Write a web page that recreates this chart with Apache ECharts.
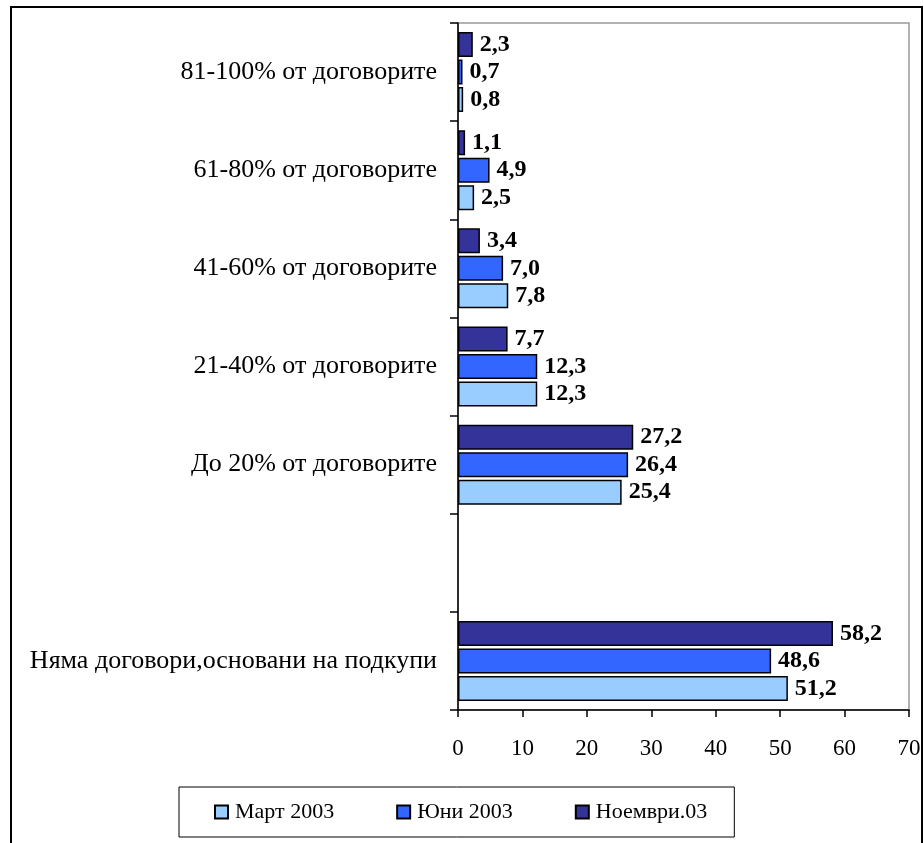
<!DOCTYPE html>
<html>
<head>
<meta charset="utf-8">
<script src="https://cdn.jsdelivr.net/npm/echarts@6/dist/echarts.min.js"></script>
<style>
html,body{margin:0;padding:0;background:#fff;}
#chart{width:924px;height:843px;}
</style>
</head>
<body>
<div id="chart"></div>
<script>
const categories = [
  "Няма договори,основани на подкупи",
  "",
  "До 20% от договорите",
  "21-40% от договорите",
  "41-60% от договорите",
  "61-80% от договорите",
  "81-100% от договорите"
];
const seriesNames = ["Март 2003", "Юни 2003", "Ноември.03"];
const mart2003 = [51.2, null, 25.4, 12.3, 7.8, 2.5, 0.8];
const yuni2003 = [48.6, null, 26.4, 12.3, 7.0, 4.9, 0.7];
const noemvri03 = [58.2, null, 27.2, 7.7, 3.4, 1.1, 2.3];
const xTicks = { min: 0, max: 70, interval: 10 };

const colors = ["#99CCFF", "#3366FF", "#333399"];
const font = "'Liberation Serif', 'Times New Roman', serif";

function mk(name, data, color) {
  return {
    name: name,
    type: "bar",
    data: data,
    barWidth: 25,
    barGap: "10%",
    itemStyle: { color: color, borderColor: "#000", borderWidth: 1.5 },
    label: {
      show: true,
      position: "right",
      distance: 7,
      fontFamily: font,
      fontWeight: "bold",
      fontSize: 24,
      color: "#000",
      formatter: p => (p.value == null ? "" : Number(p.value).toFixed(1).replace(".", ","))
    }
  };
}

const chart = echarts.init(document.getElementById("chart"));
chart.setOption({
  animation: false,
  backgroundColor: "#fff",
  textStyle: { fontFamily: font },
  grid: {
    left: 458, right: 15, top: 23, bottom: 133,
    show: true, borderColor: "#999", borderWidth: 1.5, backgroundColor: "transparent"
  },
  legend: {
    left: 179, top: 787,
    padding: [14, 27, 14, 35],
    itemGap: 62,
    itemWidth: 13, itemHeight: 13,
    icon: "rect",
    borderColor: "#000", borderWidth: 1,
    textStyle: { fontFamily: font, fontSize: 22, color: "#000", padding: [0, 0, 0, 2] },
    data: seriesNames
  },
  xAxis: {
    type: "value",
    min: xTicks.min, max: xTicks.max, interval: xTicks.interval,
    splitLine: { show: false },
    axisLine: { show: true, lineStyle: { color: "#000", width: 1.5 } },
    axisTick: { show: true, length: 7, lineStyle: { color: "#000", width: 1.5 } },
    axisLabel: { fontFamily: font, fontSize: 23, color: "#000", margin: 27 }
  },
  yAxis: {
    type: "category",
    data: categories,
    axisLine: { show: true, lineStyle: { color: "#000", width: 1.5 } },
    axisTick: { show: true, length: 8, lineStyle: { color: "#000", width: 1.5 } },
    axisLabel: { fontFamily: font, fontSize: 26, color: "#000", margin: 21 }
  },
  series: [
    mk(seriesNames[2], noemvri03, colors[2]),
    mk(seriesNames[1], yuni2003, colors[1]),
    mk(seriesNames[0], mart2003, colors[0])
  ],
  graphic: [{
    type: "rect",
    silent: true,
    z: 100,
    shape: { x: 11, y: 7, width: 911, height: 900 },
    style: { fill: "none", stroke: "#000", lineWidth: 2 }
  }]
});
</script>
</body>
</html>
